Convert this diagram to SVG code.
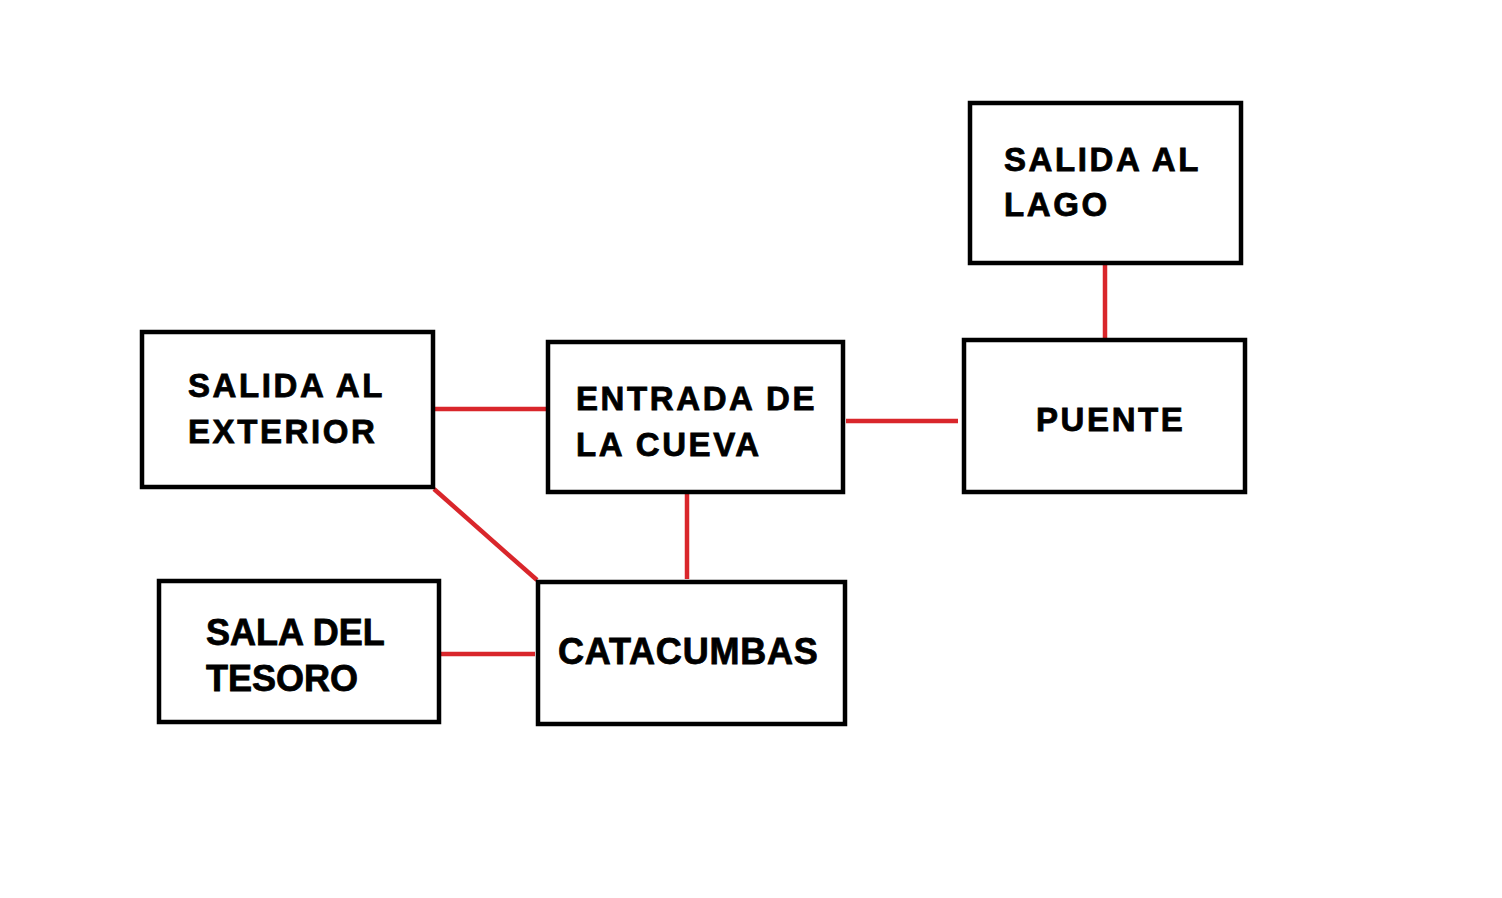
<svg xmlns="http://www.w3.org/2000/svg" width="1502" height="898" viewBox="0 0 1502 898">
<style>
.box{fill:#fff;stroke:#000;stroke-width:4.5}
.t{font-family:"Liberation Sans",Arial,sans-serif;font-weight:bold;fill:#000;stroke:#000;stroke-width:0.8}
.w{font-size:33px;letter-spacing:2.6px}
.n{font-size:36px}
.c{stroke:#d9262b;stroke-width:4.5;fill:none}
</style>
<rect width="1502" height="898" fill="#fff"/>
<g id="connectors">
<line class="c" x1="435" y1="409" x2="546" y2="409"/>
<line class="c" x1="846" y1="421" x2="958" y2="421"/>
<line class="c" x1="1105" y1="265" x2="1105" y2="338"/>
<line class="c" x1="687" y1="494" x2="687" y2="579"/>
<line class="c" x1="434" y1="489" x2="537" y2="580"/>
<line class="c" x1="441" y1="654" x2="535" y2="654"/>
</g>
<g id="salida-exterior">
<rect class="box" x="142" y="332" width="291" height="155"/>
<text class="t w" x="188" y="397">SALIDA AL</text>
<text class="t w" x="188" y="443">EXTERIOR</text>
</g>
<g id="entrada-cueva">
<rect class="box" x="548" y="342" width="295" height="150"/>
<text class="t w" x="576" y="410">ENTRADA DE</text>
<text class="t w" x="576" y="456">LA CUEVA</text>
</g>
<g id="puente">
<rect class="box" x="964" y="340" width="281" height="152"/>
<text class="t w" x="1036" y="431">PUENTE</text>
</g>
<g id="salida-lago">
<rect class="box" x="970" y="103" width="271" height="160"/>
<text class="t w" x="1004" y="171">SALIDA AL</text>
<text class="t w" x="1004" y="216">LAGO</text>
</g>
<g id="sala-tesoro">
<rect class="box" x="159" y="581" width="280" height="141"/>
<text class="t n" x="206" y="645">SALA DEL</text>
<text class="t n" x="206" y="691">TESORO</text>
</g>
<g id="catacumbas">
<rect class="box" x="538" y="582" width="307" height="142"/>
<text class="t n" x="558" y="664" letter-spacing="0.8">CATACUMBAS</text>
</g>
</svg>
